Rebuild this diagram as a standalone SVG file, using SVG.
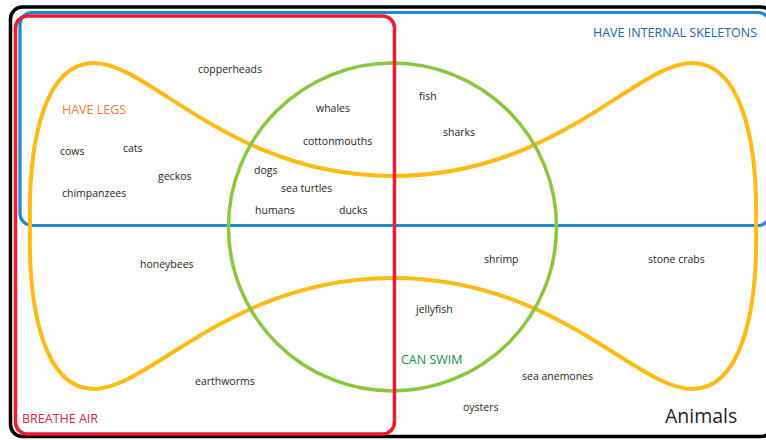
<svg xmlns="http://www.w3.org/2000/svg" width="766" height="440" viewBox="0 0 766 440">
  <style>
    .set { fill: none; }
    .item { font-family: "Open Sans", "Liberation Sans", sans-serif; font-size: 10.5px; fill: #231f20; }
    .title { font-family: "Open Sans", "Liberation Sans", sans-serif; font-size: 12.5px; }
  </style>
  <rect width="766" height="440" fill="#ffffff"/>

  <!-- Universe: animals -->
  <g id="animals">
    <rect class="set" x="10.5" y="7" width="762" height="429.5" rx="12" stroke="#000000" stroke-width="3.5"/>
    <text x="665" y="423" font-family="Open Sans, Liberation Sans, sans-serif" font-size="19.5" fill="#231f20">Animals</text>
  </g>

  <!-- Set: have internal skeletons -->
  <g id="internal-skeletons">
    <rect class="set" x="20" y="12.5" width="750" height="213" rx="12" stroke="#1b8ad3" stroke-width="3.2"/>
    <text class="title" x="593" y="37" fill="#2563ad">HAVE INTERNAL SKELETONS</text>
  </g>

  <!-- Set: have legs (bow-tie shaped loop) -->
  <g id="have-legs">
    <path class="set" stroke="#fdbb13" stroke-width="4"
      d="M 30,226 C 28,140 45,63 94,63 C 150,63 230,176 393,176 C 556,176 636,63 692,63 C 741,63 758,140 756,226 C 758,312 741,389 692,389 C 636,389 556,278 393,278 C 230,278 150,389 94,389 C 45,389 28,312 30,226 Z"/>
    <text class="title" x="62" y="114" fill="#f3773f">HAVE LEGS</text>
  </g>

  <!-- Set: can swim -->
  <g id="can-swim">
    <circle class="set" cx="392.5" cy="227" r="164" stroke="#8cc63f" stroke-width="3.5"/>
    <text class="title" x="401" y="364" fill="#1e8a4e">CAN SWIM</text>
  </g>

  <!-- Set: breathe air -->
  <g id="breathe-air">
    <rect class="set" x="15.5" y="16" width="379" height="418" rx="12" stroke="#ed1c2e" stroke-width="3.5"/>
    <text class="title" x="22" y="423" fill="#d2283c">BREATHE AIR</text>
  </g>

  <!-- Members -->
  <g id="members">
    <text class="item" x="198" y="73">copperheads</text>
    <text class="item" x="316" y="112">whales</text>
    <text class="item" x="419" y="100">fish</text>
    <text class="item" x="443" y="136">sharks</text>
    <text class="item" x="303" y="145">cottonmouths</text>
    <text class="item" x="60" y="155">cows</text>
    <text class="item" x="123" y="152">cats</text>
    <text class="item" x="158" y="180">geckos</text>
    <text class="item" x="62" y="197">chimpanzees</text>
    <text class="item" x="254" y="174">dogs</text>
    <text class="item" x="281" y="192">sea turtles</text>
    <text class="item" x="255" y="213.5">humans</text>
    <text class="item" x="339" y="213.5">ducks</text>
    <text class="item" x="140" y="267.5">honeybees</text>
    <text class="item" x="484" y="263">shrimp</text>
    <text class="item" x="648" y="262.5">stone crabs</text>
    <text class="item" x="416" y="312.5">jellyfish</text>
    <text class="item" x="195" y="385">earthworms</text>
    <text class="item" x="522" y="380">sea anemones</text>
    <text class="item" x="463" y="411">oysters</text>
  </g>
</svg>
